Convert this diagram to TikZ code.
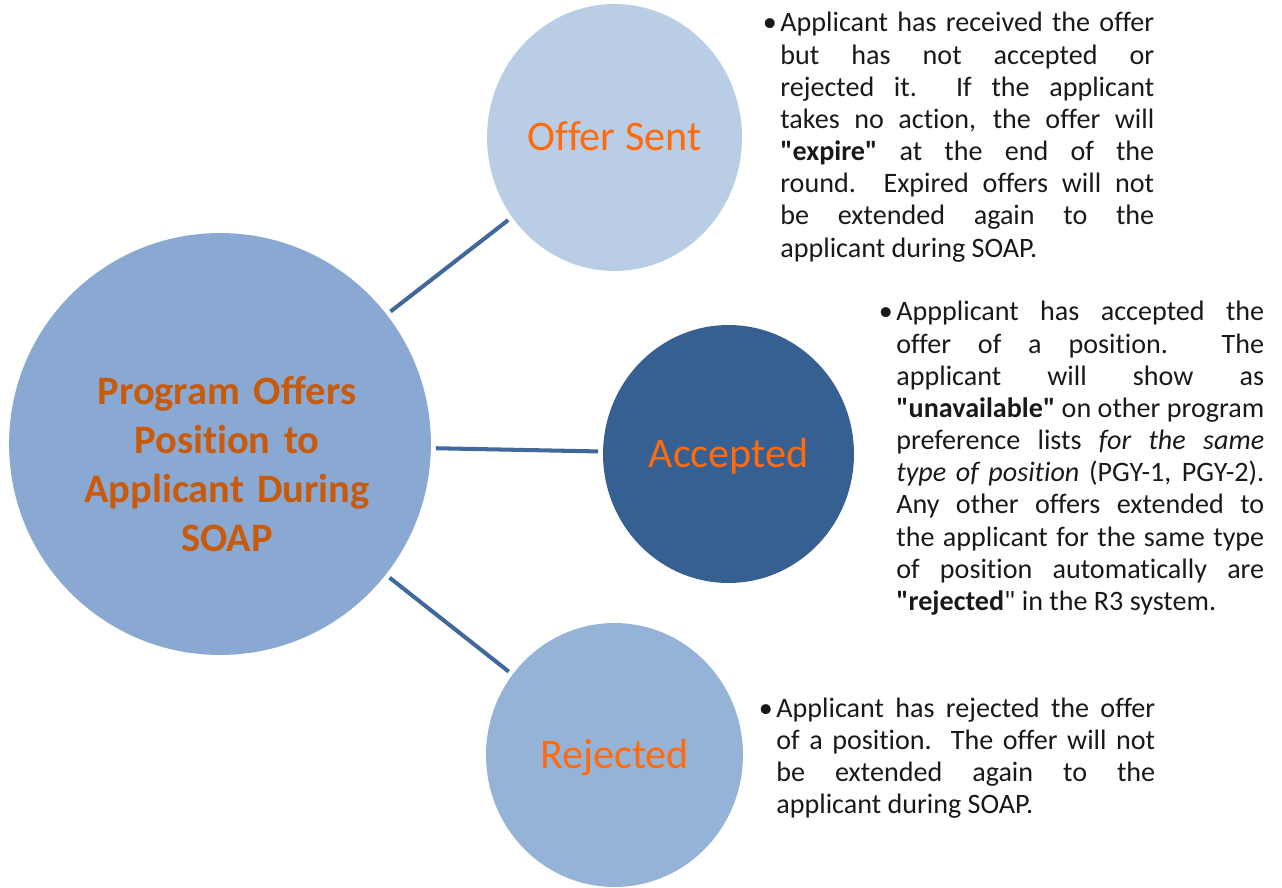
\documentclass[tikz,border=0pt]{standalone}
\usepackage{fontspec}
\setmainfont{Carlito}[Ligatures={TeX,NoCommon}]
\usetikzlibrary{shapes.geometric}
\definecolor{bigblue}{HTML}{89A9D2}
\definecolor{sentblue}{HTML}{B9CDE5}
\definecolor{accblue}{HTML}{376092}
\definecolor{rejblue}{HTML}{95B3D7}
\definecolor{linkblue}{HTML}{41689A}
\definecolor{lblorange}{HTML}{FF6A0D}
\definecolor{progorange}{HTML}{C85A0C}
\tikzset{
  bubble/.style={ellipse, inner sep=0, outer sep=0.1cm},
  bubtext/.style={text=lblorange, font=\fontsize{24}{29}\selectfont, text height=15pt, text depth=0pt, inner sep=0},
  link/.style={linkblue, line width=2.3pt},
  desc/.style={anchor=base west, inner sep=0, align=justify, text=black!90, font=\fontsize{16}{18.3}\selectfont}
}
\newcommand{\bul}{\llap{•\hspace{2pt}}}
\newcommand{\qq}{\textquotedbl}
\tolerance=9999
\hbadness=10000

\begin{document}
\begin{tikzpicture}[x=0.02cm, y=-0.02cm]
\useasboundingbox (0,0) rectangle (1282,888);
\node[bubble, fill=bigblue, minimum width=8.44cm, minimum height=8.44cm] (prog) at (220,444) {};
\node[bubble, fill=sentblue, minimum width=5.1cm, minimum height=5.34cm, label={[bubtext]center:Offer Sent}] (sent) at (614.5,137.5) {};
\node[bubble, fill=accblue, minimum width=5.02cm, minimum height=5.16cm, label={[bubtext]center:Accepted}] (acc) at (728.5,454) {};
\node[bubble, fill=rejblue, minimum width=5.14cm, minimum height=5.28cm, label={[bubtext]center:Rejected}] (rej) at (614.5,755) {};
\node[anchor=base, text width=8cm, align=center, inner sep=0, text=progorange, font=\bfseries\fontsize{23}{27.8}\selectfont] (progtxt) at (227,405) {Program Offers\\Position to\\Applicant During\\SOAP};
\foreach \b in {sent,acc,rej}
  \draw[link] (prog) -- (\b);
\node[desc, text width=7.48cm] (senttxt) at (780,32) {\bul Applicant has received the offer\linebreak
but has not accepted or\linebreak
rejected it.\ \ If the applicant\linebreak
takes no action, the offer will\linebreak
\textbf{\qq expire\qq} at the end of the\linebreak
round.\ \ Expired offers will not\linebreak
be extended again to the\linebreak
applicant during SOAP.};
\node[desc, text width=7.36cm] (acctxt) at (896,321) {\bul Appplicant has accepted the\linebreak
offer of a position.\ \ The\linebreak
applicant will show as\linebreak
\textbf{\qq unavailable\qq} on other program\linebreak
preference lists \textit{for the same\linebreak
type of position} (PGY-1, PGY-2).\linebreak
Any other offers extended to\linebreak
the applicant for the same type\linebreak
of position automatically are\linebreak
\textbf{\qq rejected}\qq{} in the R3 system.};
\node[desc, text width=7.58cm] (rejtxt) at (776,717) {\bul Applicant has rejected the offer\linebreak
of a position.\ \ The offer will not\linebreak
be extended again to the\linebreak
applicant during SOAP.};
\end{tikzpicture}
\end{document}
